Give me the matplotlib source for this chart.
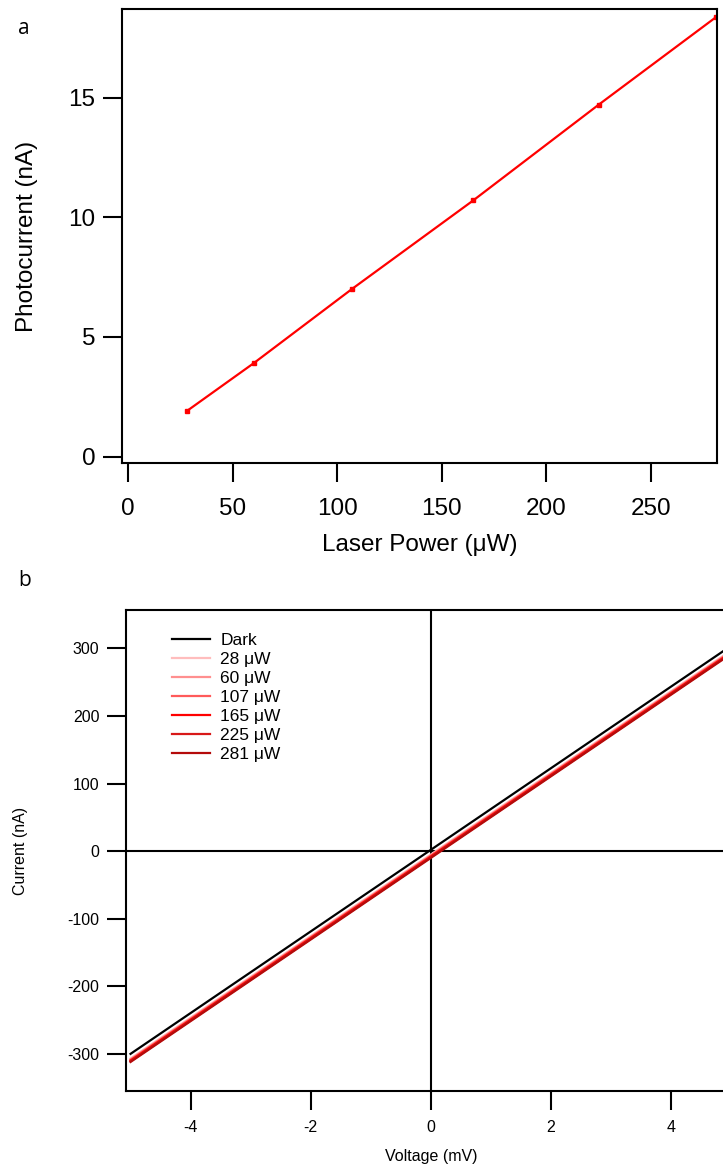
import matplotlib
matplotlib.use('Agg')
import matplotlib.pyplot as plt

plt.rcParams['font.family'] = ['Liberation Sans', 'DejaVu Sans']
plt.rcParams['axes.unicode_minus'] = False

# panel a: photocurrent vs laser power
power = [28, 60, 107, 165, 225, 281]
photocurrent = [1.9, 3.9, 7.0, 10.7, 14.7, 18.35]

# panel b: I-V sweeps, current read at the two voltage ends
voltage = [-5.0, 5.0]
iv_labels = ['Dark', '28 μW', '60 μW', '107 μW', '165 μW', '225 μW', '281 μW']
iv_currents = [
    [-300, 304],
    [-307, 297],
    [-308, 296],
    [-309, 295],
    [-310, 294],
    [-311, 293],
    [-312, 292],
]
iv_colors = ['black', '#ffbdbd', '#ff8f8f', '#ff5a5a', '#ff0000', '#d81818', '#b40a0a']

fig = plt.figure(figsize=(7.23, 11.71), dpi=100)

# ---- panel a ----
ax1 = fig.add_axes([0.1687, 0.6046, 0.8226, 0.3877])
ax1.plot(power, photocurrent, color='red', lw=1.6, marker='s', ms=3.5)
ax1.set_xlim(-3, 281.5)
ax1.set_ylim(-0.27, 18.7)
ax1.set_xticks([0, 50, 100, 150, 200, 250])
ax1.set_yticks([0, 5, 10, 15])
ax1.tick_params(direction='out', length=14, width=1.5, labelsize=17.5)
ax1.tick_params(axis='x', pad=11)
ax1.tick_params(axis='y', pad=5)
for s in ax1.spines.values():
    s.set_linewidth(1.5)
ax1.set_xlabel('Laser Power (μW)', fontsize=17.5, labelpad=10)
ax1.set_ylabel('Photocurrent (nA)', fontsize=17.5, labelpad=22)

# ---- panel b ----
ax2 = fig.add_axes([0.1739, 0.0683, 0.844, 0.4108])
for cur, lab, col in zip(iv_currents, iv_labels, iv_colors):
    ax2.plot(voltage, cur, color=col, lw=1.6, label=lab)
ax2.axhline(0, color='black', lw=1.5, zorder=0)
ax2.axvline(0, color='black', lw=1.5, zorder=0)
ax2.set_xlim(-5.08, 5.08)
ax2.set_ylim(-355, 357)
ax2.set_xticks([-4, -2, 0, 2, 4])
ax2.set_yticks([-300, -200, -100, 0, 100, 200, 300])
ax2.tick_params(direction='out', length=14, width=1.5, labelsize=11.5)
ax2.tick_params(axis='x', pad=7)
ax2.tick_params(axis='y', pad=5)
for s in ax2.spines.values():
    s.set_linewidth(1.5)
ax2.set_xlabel('Voltage (mV)', fontsize=11.5, labelpad=10)
ax2.set_ylabel('Current (nA)', fontsize=11.5, labelpad=28)
ax2.legend(loc='upper left', bbox_to_anchor=(0.05, 0.985), frameon=False,
           fontsize=12.5, handlelength=2.2, handletextpad=0.6, labelspacing=0.22)

fig.text(0.025, 0.985, 'a', fontsize=15, family='Open Sans', va='top')
fig.text(0.025, 0.513, 'b', fontsize=15, family='Open Sans', va='top')

fig.savefig('out.png', dpi=100)
